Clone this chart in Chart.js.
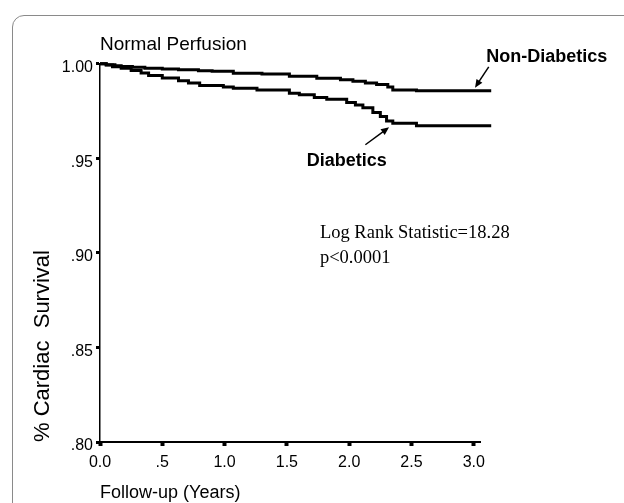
<!DOCTYPE html>
<html>
<head>
<meta charset="utf-8">
<script src="https://cdn.jsdelivr.net/npm/chart.js@4/dist/chart.umd.min.js"></script>
<style>
  html, body { margin: 0; padding: 0; background: #fff; overflow: hidden; width: 624px; height: 503px; }
  #frame { position: absolute; left: 12px; top: 15px; width: 680px; height: 620px; border: 1.5px solid #8a8a8a; border-radius: 12px; box-sizing: border-box; }
  #c { position: absolute; left: 0; top: 0; }
</style>
</head>
<body>
<div id="frame"></div>
<canvas id="c" width="624" height="503"></canvas>
<script>
// ---- data (time in years, cardiac survival fraction) ----
const nonDiabeticTimes  = [0, 0.05, 0.12, 0.17, 0.26, 0.36, 0.50, 0.63, 0.79, 0.90, 1.07, 1.30, 1.52, 1.74, 1.93, 2.03, 2.13, 2.22, 2.31, 2.35, 2.54, 3.14];
const nonDiabeticValues = [1.000, 0.9995, 0.9990, 0.9986, 0.9982, 0.9977, 0.9972, 0.9968, 0.9963, 0.9960, 0.9950, 0.9946, 0.9934, 0.9924, 0.9915, 0.9908, 0.9899, 0.9890, 0.9877, 0.9862, 0.9857, 0.9857];

const diabeticTimes  = [0, 0.05, 0.10, 0.17, 0.25, 0.33, 0.39, 0.50, 0.63, 0.71, 0.80, 0.99, 1.07, 1.26, 1.52, 1.60, 1.72, 1.82, 1.98, 2.05, 2.11, 2.19, 2.25, 2.30, 2.35, 2.54, 3.14];
const diabeticValues = [1.000, 0.9993, 0.9984, 0.9977, 0.9965, 0.9951, 0.9938, 0.9925, 0.9910, 0.9898, 0.9885, 0.9877, 0.9871, 0.9862, 0.9844, 0.9836, 0.9822, 0.9813, 0.9796, 0.9782, 0.9767, 0.9742, 0.9721, 0.9698, 0.9686, 0.9672, 0.9672];

const xTickValues = [0, 0.5, 1.0, 1.5, 2.0, 2.5, 3.0];
const xTickLabels = ['0.0', '.5', '1.0', '1.5', '2.0', '2.5', '3.0'];
const yTickValues = [0.80, 0.85, 0.90, 0.95, 1.00];
const yTickLabels = ['.80', '.85', '.90', '.95', '1.00'];

const seriesNames = ['Non-Diabetics', 'Diabetics'];
const statText = ['Log Rank Statistic=18.28', 'p<0.0001'];

const SANS = "'Liberation Sans', Arial, sans-serif";
const SERIF = "'Liberation Serif', 'Times New Roman', serif";
Chart.defaults.color = '#000';

function toPoints(ts, vs) { return ts.map((t, i) => ({ x: t, y: vs[i] })); }

function arrow(ctx, x1, y1, x2, y2) {
  const ang = Math.atan2(y2 - y1, x2 - x1);
  const L = 8, W = 3.5;
  ctx.beginPath();
  ctx.moveTo(x1, y1);
  ctx.lineTo(x2 - Math.cos(ang) * L * 0.7, y2 - Math.sin(ang) * L * 0.7);
  ctx.stroke();
  ctx.beginPath();
  ctx.moveTo(x2, y2);
  ctx.lineTo(x2 - Math.cos(ang) * L - Math.sin(ang) * W, y2 - Math.sin(ang) * L + Math.cos(ang) * W);
  ctx.lineTo(x2 - Math.cos(ang) * L + Math.sin(ang) * W, y2 - Math.sin(ang) * L - Math.cos(ang) * W);
  ctx.closePath();
  ctx.fill();
}

const annotations = {
  id: 'annotations',
  afterDatasetsDraw(chart) {
    const { ctx, scales: { x, y } } = chart;
    ctx.save();
    ctx.fillStyle = '#000';
    ctx.strokeStyle = '#000';
    ctx.lineWidth = 1.5;
    // labels of the curves
    ctx.font = "bold 18px " + SANS;
    ctx.textBaseline = 'middle';
    ctx.textAlign = 'left';
    ctx.fillText(seriesNames[0], x.getPixelForValue(3.10), y.getPixelForValue(1.0037));
    ctx.fillText(seriesNames[1], x.getPixelForValue(1.66), y.getPixelForValue(0.9487));
    // arrows
    arrow(ctx, x.getPixelForValue(3.12), y.getPixelForValue(0.9984), x.getPixelForValue(3.01), y.getPixelForValue(0.9874));
    arrow(ctx, x.getPixelForValue(2.13), y.getPixelForValue(0.9572), x.getPixelForValue(2.32), y.getPixelForValue(0.9664));
    // statistics
    ctx.font = "18.5px " + SERIF;
    ctx.textBaseline = 'alphabetic';
    ctx.fillText(statText[0], x.getPixelForValue(1.765), y.getPixelForValue(0.9079));
    ctx.fillText(statText[1], x.getPixelForValue(1.765), y.getPixelForValue(0.8947));
    ctx.restore();
  }
};

new Chart(document.getElementById('c'), {
  type: 'line',
  data: {
    datasets: [
      { label: seriesNames[0], data: toPoints(nonDiabeticTimes, nonDiabeticValues), stepped: true, borderColor: '#000', borderWidth: 3, pointRadius: 0, fill: false, clip: false },
      { label: seriesNames[1], data: toPoints(diabeticTimes, diabeticValues), stepped: true, borderColor: '#000', borderWidth: 3, pointRadius: 0, fill: false, clip: false }
    ]
  },
  options: {
    responsive: false,
    animation: false,
    devicePixelRatio: 1,
    layout: { padding: { left: 0, right: 144, top: 0, bottom: 0 } },
    plugins: {
      legend: { display: false },
      tooltip: { enabled: false },
      title: {
        display: true,
        text: 'Normal Perfusion',
        align: 'start',
        fullSize: false,
        font: { family: SANS, size: 19, weight: 'normal', lineHeight: 1.2 },
        padding: { top: 33, bottom: 8 },
        color: '#000'
      }
    },
    scales: {
      x: {
        type: 'linear',
        min: 0,
        max: 3.05,
        afterFit(s) { s.height = 61; },
        afterBuildTicks(s) { s.ticks = xTickValues.map(v => ({ value: v })); },
        ticks: {
          font: { family: SANS, size: 16 },
          padding: 7,
          maxRotation: 0,
          callback: (v) => { const i = xTickValues.findIndex(t => Math.abs(t - v) < 1e-9); return i >= 0 ? xTickLabels[i] : ''; }
        },
        grid: { display: true, drawOnChartArea: false, drawTicks: true, tickLength: 4, tickWidth: 4, color: '#000' },
        border: { display: true, color: '#000', width: 2 },
        title: {
          display: true,
          text: 'Follow-up (Years)',
          align: 'start',
          font: { family: SANS, size: 18, lineHeight: 1.2 },
          padding: { top: 0, bottom: -1 },
          color: '#000'
        }
      },
      y: {
        type: 'linear',
        min: 0.80,
        max: 1.00,
        afterFit(s) { s.width = 100; },
        afterBuildTicks(s) { s.ticks = yTickValues.map(v => ({ value: v })); },
        ticks: {
          font: { family: SANS, size: 16 },
          padding: 3,
          labelOffset: 4,
          callback: (v) => { const i = yTickValues.findIndex(t => Math.abs(t - v) < 1e-9); return i >= 0 ? yTickLabels[i] : ''; }
        },
        grid: { display: true, drawOnChartArea: false, drawTicks: true, tickLength: 4, tickWidth: 3, color: '#000' },
        border: { display: true, color: '#000', width: 1.5 },
        title: {
          display: true,
          text: '% Cardiac  Survival',
          align: 'start',
          font: { family: SANS, size: 22, lineHeight: 1.2 },
          padding: { top: 30, bottom: 0 },
          color: '#000'
        }
      }
    }
  },
  plugins: [annotations]
});
</script>
</body>
</html>
